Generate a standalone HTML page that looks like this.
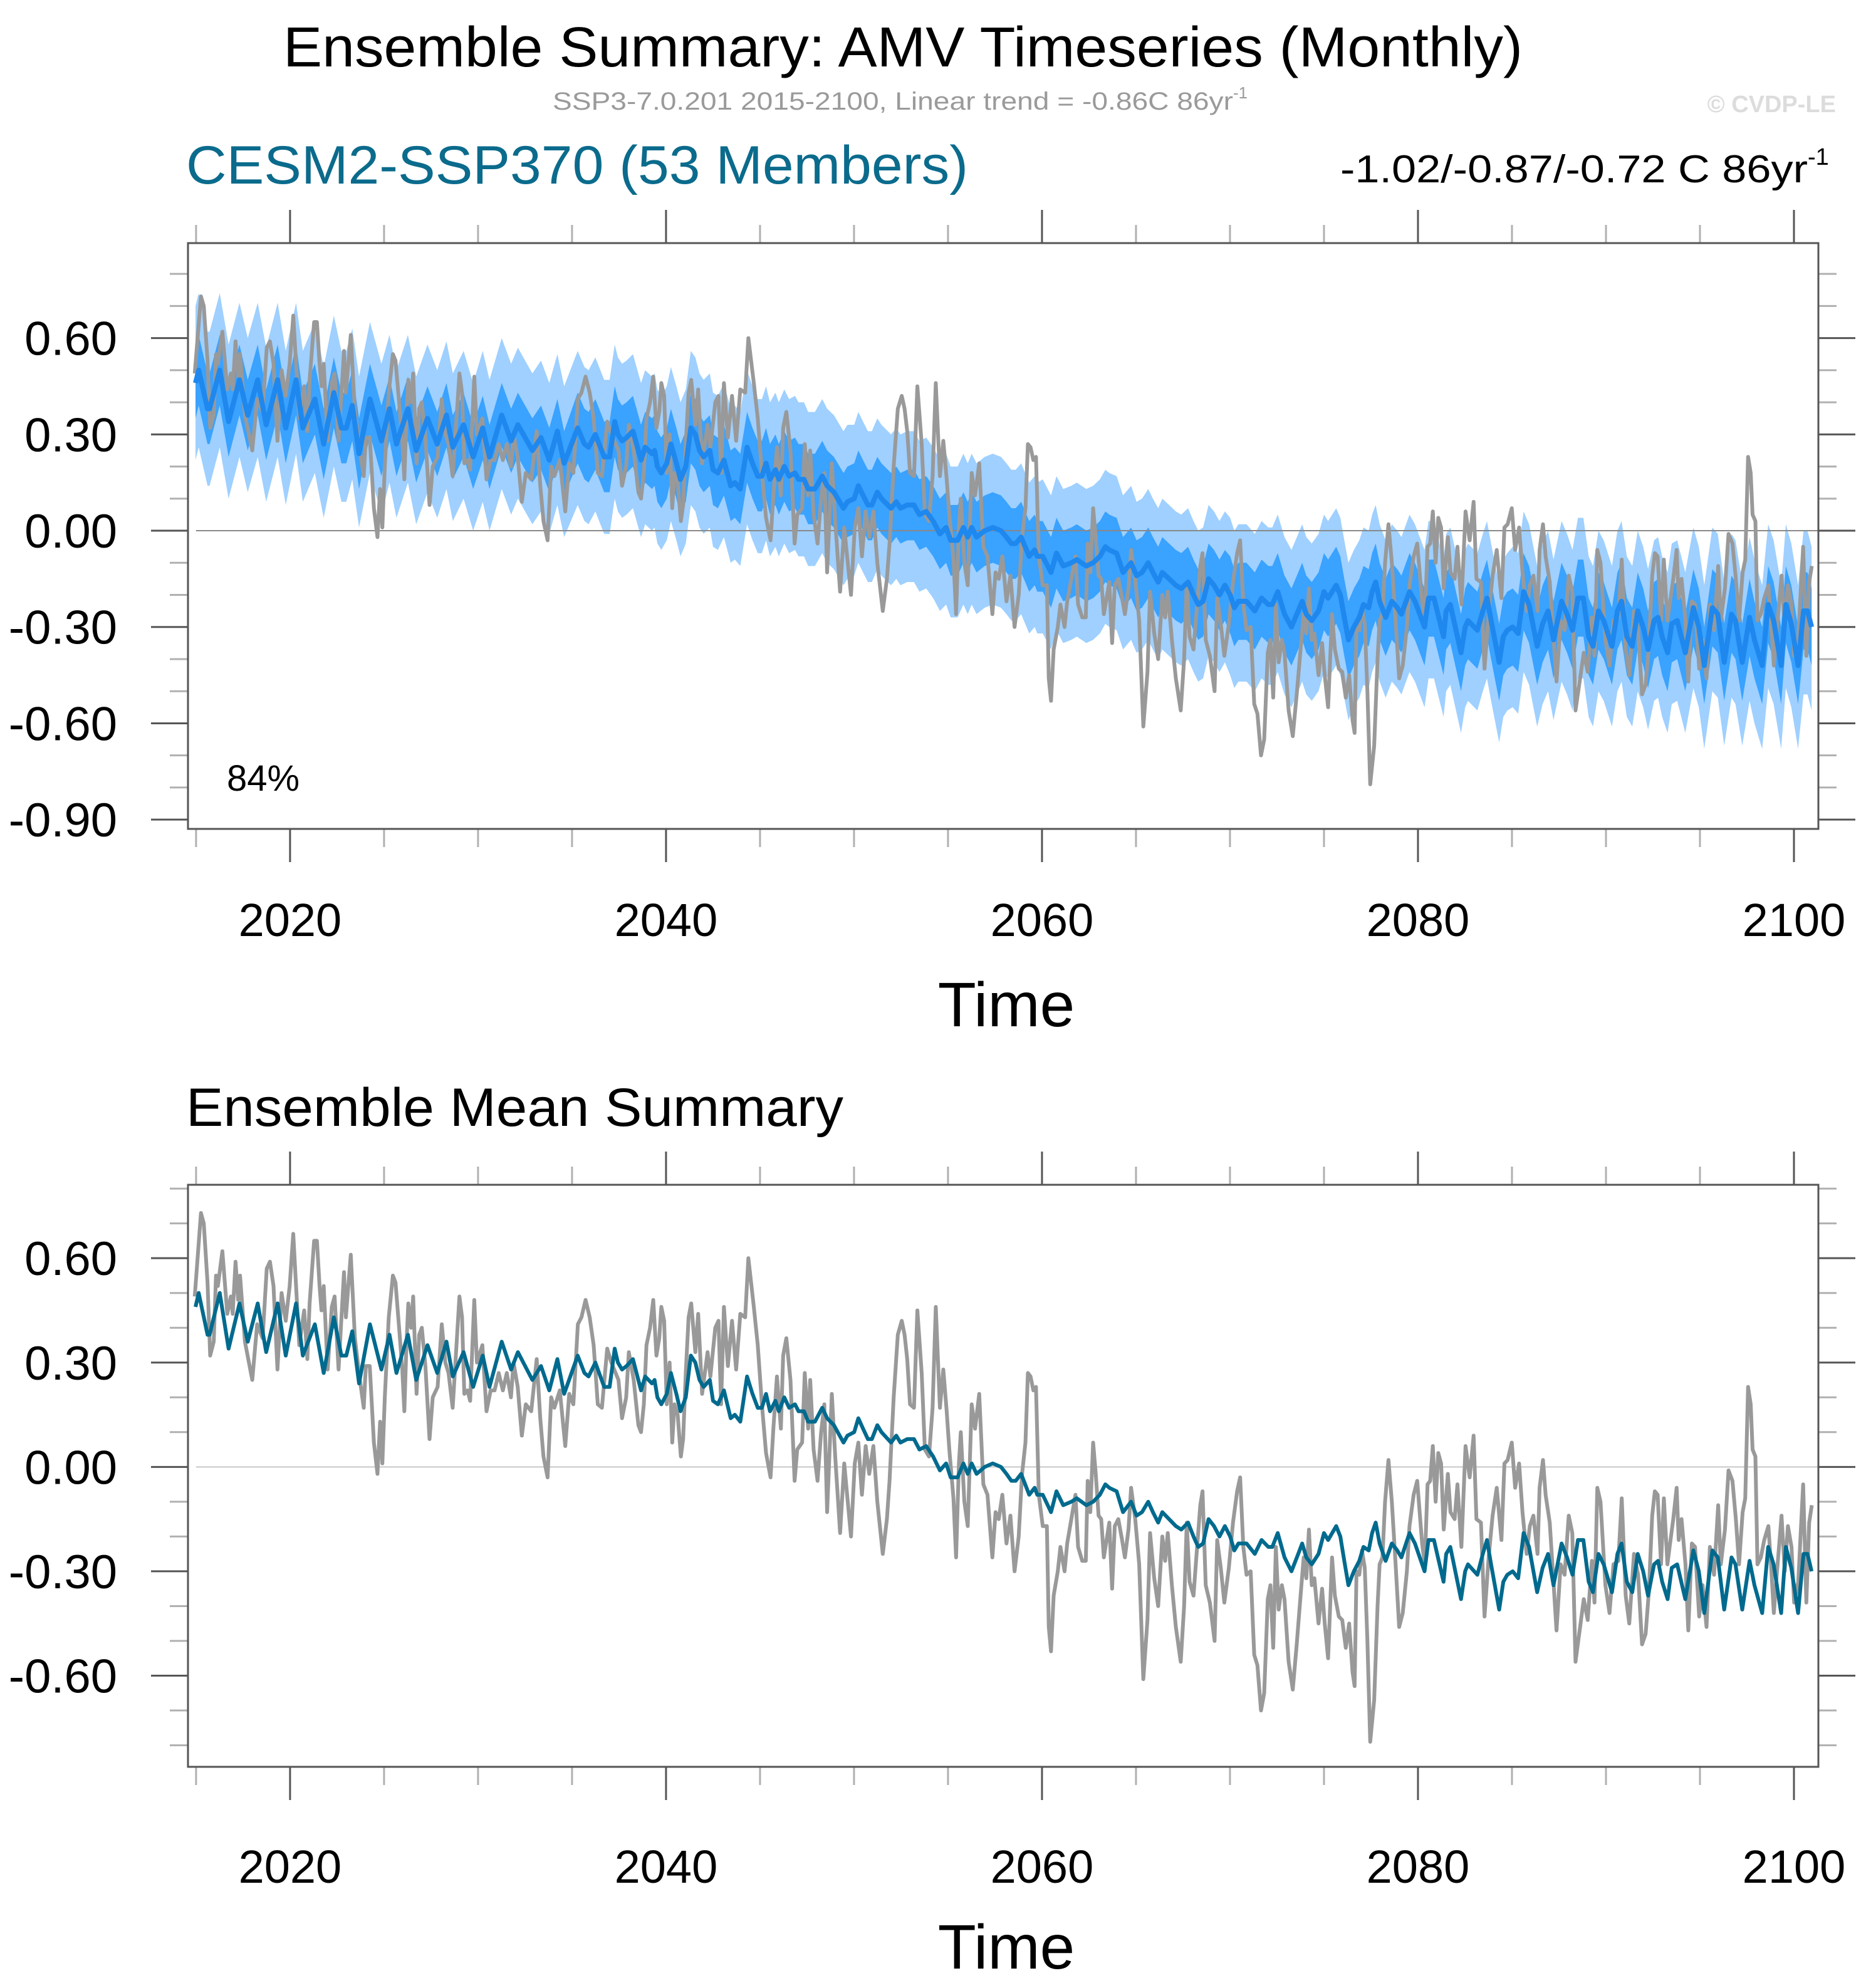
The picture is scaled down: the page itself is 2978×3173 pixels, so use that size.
<!DOCTYPE html>
<html><head><meta charset="utf-8"><style>
html,body{margin:0;padding:0;background:#fff;}
svg{display:block;font-family:"Liberation Sans",Arial,sans-serif;}
</style></head><body>
<svg id="chart" xmlns="http://www.w3.org/2000/svg" width="2978" height="3173" viewBox="0 0 2978 3173">
<text x="452" y="106" font-size="90" textLength="1978" lengthAdjust="spacingAndGlyphs" fill="#000">Ensemble Summary: AMV Timeseries (Monthly)</text>
<text x="882" y="175" font-size="40" fill="#9a9a9a"><tspan textLength="1086" lengthAdjust="spacingAndGlyphs">SSP3-7.0.201 2015-2100, Linear trend = -0.86C 86yr</tspan><tspan font-size="26" dy="-18">-1</tspan></text>
<text x="2930" y="179" font-size="38" font-weight="bold" fill="#dcdcdc" text-anchor="end">© CVDP-LE</text>
<text x="297" y="293" font-size="86" textLength="1248" lengthAdjust="spacingAndGlyphs" fill="#0b6b8c">CESM2-SSP370 (53 Members)</text>
<text x="2139" y="291" font-size="62" fill="#000"><tspan textLength="746" lengthAdjust="spacingAndGlyphs">-1.02/-0.87/-0.72 C 86yr</tspan><tspan font-size="38" dy="-28">-1</tspan></text>
<text x="362" y="1262" font-size="58" fill="#000">84%</text>
<text x="297" y="1797" font-size="86" textLength="1049" lengthAdjust="spacingAndGlyphs" fill="#000">Ensemble Mean Summary</text>
</svg>
<script>
const grayYears=[2014.93,2015.26,2015.41,2015.61,2015.75,2015.94,2016.06,2016.16,2016.40,2016.66,2016.85,2016.95,2017.10,2017.24,2017.34,2017.60,2017.99,2018.25,2018.54,2018.76,2018.93,2019.12,2019.33,2019.55,2019.77,2019.98,2020.17,2020.34,2020.49,2020.75,2020.92,2021.04,2021.28,2021.43,2021.57,2021.67,2021.79,2022.00,2022.22,2022.37,2022.58,2022.87,2022.97,2023.23,2023.45,2023.69,2023.92,2024.03,2024.24,2024.46,2024.65,2024.79,2024.91,2025.04,2025.25,2025.47,2025.61,2025.83,2025.97,2026.08,2026.19,2026.29,2026.44,2026.55,2026.73,2026.87,2027.01,2027.20,2027.42,2027.59,2027.85,2028.07,2028.26,2028.43,2028.65,2028.72,2029.01,2029.15,2029.27,2029.44,2029.58,2029.80,2029.94,2030.23,2030.45,2030.67,2030.88,2031.10,2031.32,2031.53,2031.75,2031.89,2032.11,2032.33,2032.54,2032.83,2033.12,2033.31,2033.48,2033.70,2033.89,2034.06,2034.35,2034.64,2034.85,2035.07,2035.31,2035.50,2035.72,2035.94,2036.15,2036.37,2036.59,2036.87,2037.09,2037.47,2037.66,2037.88,2038.02,2038.28,2038.53,2038.67,2038.82,2038.96,2039.15,2039.32,2039.49,2039.64,2039.75,2039.90,2040.04,2040.19,2040.33,2040.45,2040.62,2040.79,2040.91,2041.05,2041.20,2041.34,2041.56,2041.71,2041.92,2042.21,2042.36,2042.62,2042.79,2042.93,2043.08,2043.29,2043.51,2043.73,2043.95,2044.21,2044.38,2044.67,2044.88,2045.10,2045.32,2045.56,2045.71,2045.90,2046.11,2046.23,2046.40,2046.62,2046.84,2046.98,2047.24,2047.38,2047.56,2047.67,2047.85,2048.06,2048.25,2048.42,2048.57,2048.82,2049.00,2049.26,2049.48,2049.65,2049.84,2050.04,2050.23,2050.42,2050.62,2050.81,2051.03,2051.24,2051.53,2051.75,2051.89,2052.11,2052.33,2052.54,2052.69,2052.83,2052.98,2053.19,2053.37,2053.60,2053.77,2053.99,2054.18,2054.35,2054.57,2054.75,2054.93,2055.07,2055.29,2055.43,2055.58,2055.68,2055.87,2056.05,2056.26,2056.44,2056.66,2056.88,2057.10,2057.36,2057.53,2057.70,2057.89,2058.11,2058.32,2058.54,2058.76,2058.94,2059.12,2059.25,2059.39,2059.54,2059.68,2059.83,2060.04,2060.26,2060.36,2060.48,2060.62,2060.84,2060.98,2061.20,2061.34,2061.56,2061.78,2061.92,2062.14,2062.33,2062.43,2062.57,2062.72,2062.86,2063.01,2063.15,2063.29,2063.58,2063.73,2063.87,2064.06,2064.26,2064.41,2064.60,2064.74,2064.96,2065.17,2065.39,2065.61,2065.75,2065.97,2066.18,2066.40,2066.55,2066.69,2066.91,2067.12,2067.38,2067.56,2067.70,2067.85,2068.06,2068.21,2068.42,2068.54,2068.71,2068.93,2069.18,2069.32,2069.51,2069.70,2069.94,2070.16,2070.38,2070.54,2070.71,2070.88,2071.10,2071.29,2071.46,2071.65,2071.82,2072.01,2072.15,2072.30,2072.44,2072.59,2072.76,2072.90,2073.12,2073.34,2073.55,2073.74,2073.92,2074.06,2074.20,2074.35,2074.49,2074.71,2074.90,2075.04,2075.22,2075.43,2075.58,2075.79,2075.97,2076.16,2076.34,2076.52,2076.63,2076.73,2076.88,2077.02,2077.17,2077.31,2077.46,2077.67,2077.85,2077.96,2078.11,2078.25,2078.43,2078.61,2078.80,2079.00,2079.19,2079.41,2079.55,2079.77,2079.96,2080.22,2080.36,2080.51,2080.65,2080.79,2080.94,2081.08,2081.23,2081.37,2081.59,2081.73,2081.95,2082.10,2082.31,2082.53,2082.75,2082.96,2083.11,2083.35,2083.54,2083.76,2083.97,2084.19,2084.44,2084.60,2084.77,2084.99,2085.17,2085.38,2085.56,2085.78,2085.95,2086.14,2086.36,2086.47,2086.65,2086.79,2087.01,2087.15,2087.37,2087.59,2087.80,2088.02,2088.21,2088.38,2088.60,2088.82,2089.03,2089.25,2089.39,2089.54,2089.71,2089.97,2090.19,2090.40,2090.66,2090.84,2091.05,2091.24,2091.49,2091.71,2091.92,2092.11,2092.28,2092.46,2092.60,2092.75,2092.93,2093.08,2093.27,2093.41,2093.58,2093.76,2093.87,2094.02,2094.23,2094.38,2094.57,2094.74,2094.96,2095.14,2095.35,2095.53,2095.75,2095.97,2096.11,2096.33,2096.52,2096.73,2096.91,2097.08,2097.27,2097.41,2097.56,2097.70,2097.80,2097.95,2098.06,2098.24,2098.42,2098.64,2098.79,2098.93,2099.10,2099.34,2099.51,2099.68,2099.87,2100.01,2100.23,2100.49,2100.66,2100.81,2100.95];
const grayVals=[0.49,0.73,0.70,0.53,0.32,0.36,0.55,0.52,0.62,0.44,0.49,0.44,0.59,0.48,0.55,0.36,0.25,0.41,0.37,0.57,0.59,0.52,0.28,0.50,0.42,0.52,0.67,0.50,0.35,0.45,0.31,0.47,0.65,0.65,0.52,0.45,0.52,0.28,0.46,0.49,0.28,0.56,0.43,0.61,0.37,0.26,0.17,0.29,0.29,0.07,-0.02,0.13,0.01,0.20,0.43,0.55,0.53,0.38,0.28,0.16,0.35,0.47,0.40,0.49,0.21,0.38,0.40,0.29,0.08,0.20,0.23,0.41,0.30,0.27,0.17,0.23,0.49,0.43,0.21,0.22,0.19,0.48,0.30,0.35,0.16,0.22,0.22,0.27,0.22,0.27,0.20,0.30,0.23,0.09,0.18,0.16,0.31,0.14,0.03,-0.03,0.20,0.17,0.22,0.06,0.21,0.18,0.41,0.43,0.48,0.43,0.35,0.18,0.17,0.34,0.30,0.25,0.14,0.20,0.33,0.25,0.12,0.10,0.18,0.35,0.40,0.48,0.32,0.37,0.46,0.42,0.18,0.30,0.07,0.18,0.15,0.03,0.08,0.27,0.43,0.47,0.33,0.44,0.21,0.33,0.26,0.40,0.42,0.18,0.46,0.29,0.42,0.28,0.44,0.43,0.60,0.46,0.35,0.18,0.04,-0.03,0.11,0.26,0.11,0.32,0.37,0.25,-0.04,0.05,0.07,0.27,0.11,0.25,0.05,-0.04,0.10,0.18,-0.13,0.21,0.03,-0.19,0.01,-0.09,-0.20,0.01,0.07,-0.08,0.06,-0.02,0.06,-0.10,-0.25,-0.15,-0.04,0.20,0.38,0.42,0.38,0.31,0.18,0.17,0.45,0.27,0.05,0.03,0.17,0.46,0.17,0.28,0.16,0.05,-0.09,-0.26,0.01,0.10,-0.10,-0.17,0.18,0.11,0.21,-0.05,-0.08,-0.26,-0.13,-0.15,-0.08,-0.22,-0.14,-0.30,-0.20,-0.02,0.07,0.27,0.26,0.22,0.23,-0.08,-0.17,-0.17,-0.46,-0.53,-0.37,-0.30,-0.23,-0.30,-0.22,-0.15,-0.08,-0.23,-0.27,-0.27,-0.04,-0.13,0.07,-0.02,-0.14,-0.15,-0.26,-0.16,-0.35,-0.17,-0.15,-0.21,-0.26,-0.18,-0.06,-0.15,-0.28,-0.61,-0.44,-0.19,-0.32,-0.40,-0.20,-0.27,-0.19,-0.34,-0.46,-0.56,-0.40,-0.16,-0.33,-0.37,-0.26,-0.11,-0.07,-0.34,-0.39,-0.50,-0.21,-0.29,-0.39,-0.29,-0.16,-0.07,-0.03,-0.23,-0.31,-0.30,-0.54,-0.57,-0.70,-0.65,-0.38,-0.34,-0.52,-0.23,-0.41,-0.34,-0.38,-0.56,-0.64,-0.51,-0.38,-0.26,-0.32,-0.18,-0.34,-0.32,-0.45,-0.35,-0.45,-0.55,-0.26,-0.37,-0.43,-0.44,-0.52,-0.45,-0.59,-0.63,-0.30,-0.31,-0.24,-0.29,-0.50,-0.79,-0.67,-0.40,-0.28,-0.26,-0.10,0.02,-0.10,-0.27,-0.46,-0.42,-0.30,-0.17,-0.08,-0.04,-0.22,-0.28,-0.05,-0.04,0.06,-0.10,0.04,0.01,-0.18,-0.02,-0.13,-0.15,-0.05,-0.23,0.06,-0.03,0.09,-0.15,-0.16,-0.43,-0.26,-0.14,-0.06,-0.21,0.01,0.02,0.07,-0.06,0.01,-0.13,-0.25,-0.17,-0.14,-0.25,-0.06,0.02,-0.08,-0.16,-0.28,-0.47,-0.28,-0.31,-0.14,-0.19,-0.56,-0.47,-0.38,-0.44,-0.27,-0.39,-0.06,-0.10,-0.34,-0.42,-0.28,-0.27,-0.09,-0.37,-0.45,-0.25,-0.31,-0.51,-0.48,-0.36,-0.14,-0.07,-0.08,-0.28,-0.09,-0.28,-0.22,-0.15,-0.06,-0.21,-0.15,-0.28,-0.47,-0.22,-0.23,-0.43,-0.34,-0.46,-0.23,-0.31,-0.11,-0.28,-0.18,-0.01,-0.04,-0.15,-0.28,-0.13,-0.09,0.23,0.18,0.05,0.03,-0.28,-0.26,-0.21,-0.17,-0.29,-0.42,-0.30,-0.14,-0.30,-0.17,-0.23,-0.39,-0.33,-0.05,-0.39,-0.16,-0.11];
const meanYears=[2014.97,2015.14,2015.61,2015.72,2016.26,2016.73,2017.31,2017.75,2018.28,2018.73,2019.34,2019.77,2020.32,2020.68,2021.32,2021.79,2022.33,2022.73,2022.99,2023.31,2023.67,2024.25,2024.86,2025.29,2025.66,2026.27,2026.71,2027.31,2027.83,2028.32,2028.66,2029.23,2029.74,2030.25,2030.61,2031.26,2031.76,2032.12,2032.89,2033.35,2033.79,2034.22,2034.58,2035.30,2035.66,2035.88,2036.24,2036.71,2037.00,2037.27,2037.44,2037.66,2037.90,2038.24,2038.67,2038.89,2039.25,2039.39,2039.54,2039.75,2040.04,2040.26,2040.55,2040.77,2041.05,2041.32,2041.56,2041.78,2042.00,2042.33,2042.50,2042.76,2043.08,2043.44,2043.66,2043.95,2044.31,2044.60,2044.88,2045.10,2045.32,2045.53,2045.82,2046.00,2046.29,2046.55,2046.86,2047.05,2047.34,2047.56,2047.92,2048.31,2048.57,2048.93,2049.44,2049.65,2050.01,2050.23,2050.48,2050.74,2050.95,2051.24,2051.46,2051.97,2052.25,2052.47,2052.83,2053.19,2053.48,2053.84,2054.21,2054.57,2054.90,2055.14,2055.51,2055.82,2056.05,2056.26,2056.52,2056.95,2057.38,2057.82,2058.11,2058.37,2058.60,2058.89,2059.32,2059.61,2059.75,2060.04,2060.48,2060.77,2061.13,2061.56,2061.85,2062.36,2062.72,2063.08,2063.37,2063.58,2063.97,2064.31,2064.74,2065.03,2065.32,2065.65,2065.90,2066.18,2066.40,2066.76,2067.12,2067.41,2067.77,2068.06,2068.31,2068.57,2068.86,2069.15,2069.44,2069.73,2070.01,2070.23,2070.45,2070.88,2071.32,2071.68,2072.04,2072.25,2072.54,2072.90,2073.27,2073.63,2073.84,2074.06,2074.35,2074.71,2075.00,2075.22,2075.65,2075.87,2076.08,2076.30,2076.59,2076.88,2077.10,2077.38,2077.56,2077.75,2077.96,2078.28,2078.61,2078.90,2079.12,2079.55,2079.84,2080.35,2080.56,2080.85,2081.36,2081.50,2081.72,2082.29,2082.51,2082.66,2083.16,2083.45,2083.67,2083.89,2084.32,2084.54,2084.75,2085.04,2085.33,2085.62,2085.91,2086.34,2086.63,2086.92,2087.21,2087.64,2087.93,2088.22,2088.51,2088.80,2089.08,2089.31,2089.60,2089.88,2090.32,2090.61,2090.83,2091.11,2091.40,2091.69,2091.98,2092.24,2092.56,2092.77,2092.99,2093.28,2093.50,2093.79,2094.22,2094.65,2094.94,2095.23,2095.66,2095.95,2096.29,2096.68,2096.89,2097.25,2097.64,2097.90,2098.31,2098.63,2098.92,2099.32,2099.57,2099.86,2100.22,2100.51,2100.72,2100.94];
const meanVals=[0.46,0.50,0.38,0.38,0.50,0.34,0.47,0.36,0.47,0.33,0.47,0.32,0.47,0.32,0.41,0.27,0.43,0.32,0.32,0.39,0.24,0.41,0.28,0.38,0.27,0.38,0.25,0.35,0.27,0.36,0.26,0.33,0.23,0.32,0.23,0.36,0.28,0.33,0.25,0.29,0.22,0.31,0.21,0.32,0.27,0.26,0.30,0.23,0.23,0.34,0.30,0.28,0.29,0.31,0.22,0.26,0.24,0.25,0.20,0.18,0.21,0.27,0.21,0.16,0.20,0.32,0.30,0.25,0.23,0.25,0.19,0.18,0.22,0.14,0.15,0.13,0.26,0.21,0.17,0.17,0.21,0.16,0.19,0.16,0.20,0.17,0.18,0.16,0.16,0.13,0.13,0.17,0.14,0.12,0.07,0.09,0.10,0.14,0.11,0.08,0.08,0.12,0.10,0.07,0.09,0.07,0.08,0.08,0.05,0.06,0.03,-0.01,0.01,-0.03,-0.03,0.01,-0.02,0.01,-0.02,0.00,0.01,0.00,-0.02,-0.04,-0.04,-0.02,-0.08,-0.06,-0.08,-0.08,-0.13,-0.07,-0.11,-0.10,-0.09,-0.11,-0.10,-0.08,-0.05,-0.06,-0.07,-0.13,-0.10,-0.14,-0.13,-0.10,-0.13,-0.16,-0.13,-0.15,-0.17,-0.18,-0.16,-0.20,-0.23,-0.22,-0.15,-0.17,-0.20,-0.17,-0.20,-0.24,-0.22,-0.22,-0.25,-0.21,-0.23,-0.23,-0.19,-0.26,-0.30,-0.25,-0.22,-0.26,-0.28,-0.25,-0.19,-0.21,-0.17,-0.20,-0.27,-0.34,-0.30,-0.27,-0.23,-0.24,-0.19,-0.16,-0.22,-0.27,-0.22,-0.24,-0.26,-0.19,-0.22,-0.30,-0.21,-0.21,-0.33,-0.25,-0.23,-0.38,-0.30,-0.28,-0.31,-0.25,-0.21,-0.28,-0.41,-0.33,-0.31,-0.30,-0.32,-0.19,-0.23,-0.36,-0.29,-0.25,-0.34,-0.22,-0.26,-0.31,-0.21,-0.21,-0.33,-0.36,-0.25,-0.28,-0.36,-0.25,-0.22,-0.33,-0.36,-0.25,-0.30,-0.37,-0.28,-0.27,-0.33,-0.38,-0.29,-0.28,-0.38,-0.24,-0.30,-0.42,-0.24,-0.26,-0.41,-0.26,-0.28,-0.41,-0.27,-0.34,-0.42,-0.23,-0.28,-0.42,-0.23,-0.29,-0.42,-0.25,-0.25,-0.30];
// ensemble spread offsets, one per 5-year block starting 2015
const spreadOuterUp=[0.24,0.24,0.23,0.24,0.24,0.24,0.24,0.23,0.23,0.24,0.23,0.24,0.24,0.24,0.25,0.25,0.25,0.25];
const spreadOuterDn=[0.24,0.23,0.23,0.23,0.24,0.24,0.24,0.24,0.24,0.24,0.24,0.25,0.25,0.25,0.25,0.25,0.26,0.26];
const spreadInnerUp=[0.11,0.11,0.10,0.10,0.11,0.11,0.11,0.11,0.11,0.11,0.11,0.12,0.12,0.12,0.12,0.12,0.12,0.12];
const spreadInnerDn=[0.11,0.11,0.10,0.10,0.11,0.11,0.11,0.11,0.11,0.11,0.11,0.12,0.12,0.12,0.12,0.12,0.12,0.12];
const yTickLabelsTop=["0.60","0.30","0.00","-0.30","-0.60","-0.90"];
const yTickValsTop=[0.6,0.3,0,-0.3,-0.6,-0.9];
const yTickLabelsBot=["0.60","0.30","0.00","-0.30","-0.60"];
const yTickValsBot=[0.6,0.3,0,-0.3,-0.6];
const xTickLabels=["2020","2040","2060","2080","2100"];
const xTickVals=[2020,2040,2060,2080,2100];

const NS="http://www.w3.org/2000/svg";
const svg=document.getElementById('chart');
const XMIN=2014.57,XMAX=2101.3,BL=300,BR=2902;
function xS(t){return BL+(t-XMIN)/(XMAX-XMIN)*(BR-BL);}
function mk(tag,attrs,parent){const e=document.createElementNS(NS,tag);for(const k in attrs)e.setAttribute(k,attrs[k]);(parent||svg).appendChild(e);return e;}
function blk(t){return Math.max(0,Math.min(17,Math.floor((t-2015)/5)));}

function panel(id,top,bot,vmax,vmin,tickVals,tickLabels,zeroColor,withBands,meanColor,meanWidth,xLabY,timeY){
  const yS=v=>top+(vmax-v)/(vmax-vmin)*(bot-top);
  const g=mk('g',{});
  
  
  for(let yr=2015;yr<=2100;yr+=5){
    const major=xTickVals.indexOf(yr)>=0;const L=major?53:29;const col=major?'#555':'#b0b0b0';
    const t1=mk('line',{x1:xS(yr),x2:xS(yr),y1:top-L,y2:top,stroke:col,'stroke-width':3},g);
    
    
    const t2=mk('line',{x1:xS(yr),x2:xS(yr),y1:bot,y2:bot+L,stroke:col,'stroke-width':3},g);
    
    
  }
  for(let k=-9;k<=9;k++){
    const v=k/10; if(v>vmax||v<vmin)continue;
    const major=(k%3===0);const L=major?59:29;const col=major?'#555':'#b0b0b0';const y=yS(v);
    const a=mk('line',{x1:BL-L,x2:BL,y1:y,y2:y,stroke:col,'stroke-width':3},g);
    
    
    const b=mk('line',{x1:BR,x2:BR+L,y1:y,y2:y,stroke:col,'stroke-width':3},g);
    
    
  }
  tickVals.forEach((v,i)=>{
    const t=mk('text',{x:187,y:yS(v)+27,'font-size':76,'text-anchor':'end',fill:'#000'},g);
    t.textContent=tickLabels[i];
    
    
  });
  xTickVals.forEach((v,i)=>{
    const t=mk('text',{x:xS(v),y:xLabY,'font-size':74,'text-anchor':'middle',fill:'#000'},g);
    t.textContent=xTickLabels[i];
    
    
  });
  const tt=mk('text',{x:1606,y:timeY,'font-size':100,'text-anchor':'middle',fill:'#000'},g);
  tt.textContent='Time';
  
  
  const clipId=id+'-clip';
  const cp=mk('clipPath',{id:clipId},g);mk('rect',{x:BL,y:top,width:BR-BL,height:bot-top},cp);
  const pg=mk('g',{'clip-path':'url(#'+clipId+')'},g);
  if(withBands){
    const bands=[[spreadOuterUp,spreadOuterDn,'#9fd0ff','spread-10-90'],[spreadInnerUp,spreadInnerDn,'#3aa2ff','spread-25-75']];
    bands.forEach(b=>{
      let up=[],dn=[];
      meanYears.forEach((t,i)=>{up.push(xS(t)+','+yS(meanVals[i]+b[0][blk(t)]));dn.unshift(xS(t)+','+yS(meanVals[i]-b[1][blk(t)]));});
      const p=mk('polygon',{points:up.concat(dn).join(' '),fill:b[2]},pg);
      
      
    });
  }
  const z=mk('line',{x1:xS(2015),x2:BR,y1:yS(0),y2:yS(0),stroke:zeroColor,'stroke-width':2},pg);
  
  
  const gp=mk('polyline',{points:grayYears.map((t,i)=>xS(t)+','+yS(grayVals[i])).join(' '),fill:'none',stroke:'#999','stroke-width':6,'stroke-linejoin':'round'},pg);
  
  
  const mp=mk('polyline',{points:meanYears.map((t,i)=>xS(t)+','+yS(meanVals[i])).join(' '),fill:'none',stroke:meanColor,'stroke-width':meanWidth,'stroke-linejoin':'round'},pg);
  
  
  const box=mk('rect',{x:BL,y:top,width:BR-BL,height:bot-top,fill:'none',stroke:'#555','stroke-width':3},g);
  
  
}
panel('ensemble-summary',388,1323,0.896,-0.929,yTickValsTop,yTickLabelsTop,'#888',true,'#1e88ee',8,1494,1638);
panel('ensemble-mean',1891,2820,0.811,-0.862,yTickValsBot,yTickLabelsBot,'#c8c8c8',false,'#006a8e',6,3005,3142);
</script>
</body></html>
